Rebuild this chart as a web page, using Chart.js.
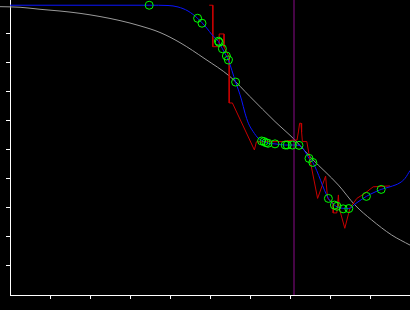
<!DOCTYPE html>
<html>
<head>
<meta charset="utf-8">
<script src="https://cdn.jsdelivr.net/npm/chart.js@4/dist/chart.umd.min.js"></script>
<style>
  html, body { margin: 0; padding: 0; background: #000; }
  canvas { display: block; }
</style>
</head>
<body>
<canvas id="fitChart" width="410" height="310"></canvas>
<script>
// tick positions (no labels shown in the picture)
var xTickValues = [1, 2, 3, 4, 5, 6, 7, 8, 9];
var yTickValues = [1, 2, 3, 4, 5, 6, 7, 8, 9];

// measured samples (green circles)
var sampleX = [3.48, 4.69, 4.80, 5.21, 5.23, 5.31, 5.41, 5.46, 5.64, 6.29, 6.35, 6.40, 6.45, 6.625,
    6.88, 6.93, 7.06, 7.225, 7.475, 7.57, 7.96, 8.11, 8.175, 8.33, 8.47, 8.91, 9.28];
var sampleY = [9.99, 9.54, 9.37, 8.75, 8.71, 8.49, 8.24, 8.10, 7.34, 5.31, 5.29, 5.25, 5.23, 5.21,
    5.17, 5.17, 5.17, 5.16, 4.71, 4.57, 3.33, 3.10, 3.06, 2.97, 2.98, 3.40, 3.64];

// smoothed fit (blue)
var fitX = [0, 3.48, 3.95, 4.2, 4.45, 4.69, 4.92, 5.05, 5.21, 5.31, 5.41, 5.46, 5.64, 5.71, 5.79,
    5.875, 5.96, 6.08, 6.21, 6.35, 6.45, 6.625, 6.88, 7.06, 7.225, 7.35, 7.475, 7.57, 7.96, 8.11,
    8.25, 8.47, 8.65, 8.91, 9.125, 9.28, 9.5, 9.75, 9.875, 10];
var fitY = [9.99, 9.99, 9.98, 9.93, 9.79, 9.54, 9.2, 8.97, 8.74, 8.49, 8.24, 8.10, 7.34, 7.07, 6.72,
    6.27, 5.92, 5.63, 5.40, 5.29, 5.23, 5.21, 5.17, 5.17, 5.16, 5.0, 4.71, 4.57, 3.33, 3.10,
    3.0, 2.98, 3.16, 3.40, 3.55, 3.64, 3.73, 3.87, 4.02, 4.29];

// raw trace (red)
var rawX = [4.98, 5.07, 5.07, 5.23, 5.23, 5.35, 5.35, 5.48, 5.48, 5.56, 6.11, 6.16, 6.83, 7.07,
    7.175, 7.21, 7.24, 7.275, 7.29, 7.31, 7.42, 7.5, 7.69, 7.89, 7.94, 8.08, 8.08, 8.17, 8.21,
    8.23, 8.37, 8.5, 8.67, 8.875, 9.08, 9.5];
var rawY = [9.99, 9.99, 8.56, 8.56, 9.0, 9.0, 8.55, 8.21, 6.62, 6.62, 5.0, 5.28, 5.29, 5.34,
    5.34, 5.62, 5.92, 5.92, 5.62, 5.29, 5.29, 4.66, 3.33, 4.10, 3.33, 3.16, 2.83, 2.83, 3.45,
    3.0, 2.30, 3.0, 3.33, 3.51, 3.73, 3.76];

// reference curve (grey)
var refX = [-0.25, 0.25, 0.75, 1.25, 1.75, 2.25, 2.75, 3.25, 3.75, 4.25, 4.875, 5.5, 6.0, 6.625,
    7.125, 7.54, 8.21, 8.625, 9.04, 9.54, 10];
var refY = [9.94, 9.92, 9.85, 9.79, 9.71, 9.60, 9.46, 9.28, 9.05, 8.70, 8.14, 7.53, 6.84, 5.98,
    5.34, 4.71, 3.79, 3.10, 2.59, 2.07, 1.72];

// vertical marker
var markerX = 7.1;

function pts(xs, ys) {
    return xs.map(function (x, i) { return { x: x, y: ys[i] }; });
}

const ctx = document.getElementById("fitChart");

new Chart(ctx, {
    type: "scatter",
    data: {
        datasets: [
            {
                data: pts(sampleX, sampleY),
                showLine: false,
                pointRadius: 4,
                pointBorderWidth: 1,
                pointBorderColor: "#00ff00",
                pointBackgroundColor: "rgba(0,0,0,0)",
                order: 0,
            },
            {
                data: [{ x: markerX, y: 0 }, { x: markerX, y: 10.2 }],
                showLine: true,
                borderColor: "#8a0a8a",
                borderWidth: 1,
                pointRadius: 0,
                order: 1,
            },
            {
                data: pts(fitX, fitY),
                showLine: true,
                borderColor: "#0a14ff",
                borderWidth: 1,
                pointRadius: 0,
                cubicInterpolationMode: "monotone",
                order: 2,
            },
            {
                data: pts(rawX, rawY),
                showLine: true,
                borderColor: "#c80000",
                borderWidth: 1,
                pointRadius: 0,
                tension: 0,
                order: 3,
            },
            {
                data: pts(refX, refY),
                showLine: true,
                borderColor: "#9a9a9a",
                borderWidth: 1,
                pointRadius: 0,
                cubicInterpolationMode: "monotone",
                clip: false,
                order: 4,
            },
        ],
    },
    options: {
        responsive: false,
        animation: false,
        layout: {
            autoPadding: false,
            padding: { left: 6, top: 0, right: 0, bottom: 11 },
        },
        plugins: {
            legend: { display: false },
            tooltip: { enabled: false },
        },
        scales: {
            x: {
                type: "linear",
                min: 0,
                max: 10,
                afterBuildTicks: function (scale) {
                    scale.ticks = xTickValues.map(function (v) { return { value: v }; });
                },
                ticks: { display: false },
                grid: {
                    drawOnChartArea: false,
                    drawTicks: true,
                    tickLength: 4,
                    color: "#ffffff",
                    lineWidth: 1,
                },
                border: { display: true, color: "#ffffff", width: 1 },
            },
            y: {
                type: "linear",
                min: 0,
                max: 10.17,
                afterBuildTicks: function (scale) {
                    scale.ticks = yTickValues.map(function (v) { return { value: v }; });
                },
                ticks: { display: false },
                grid: {
                    drawOnChartArea: false,
                    drawTicks: true,
                    tickLength: 4,
                    color: "#ffffff",
                    lineWidth: 1,
                },
                border: { display: true, color: "#ffffff", width: 1 },
            },
        },
    },
});
</script>
</body>
</html>
